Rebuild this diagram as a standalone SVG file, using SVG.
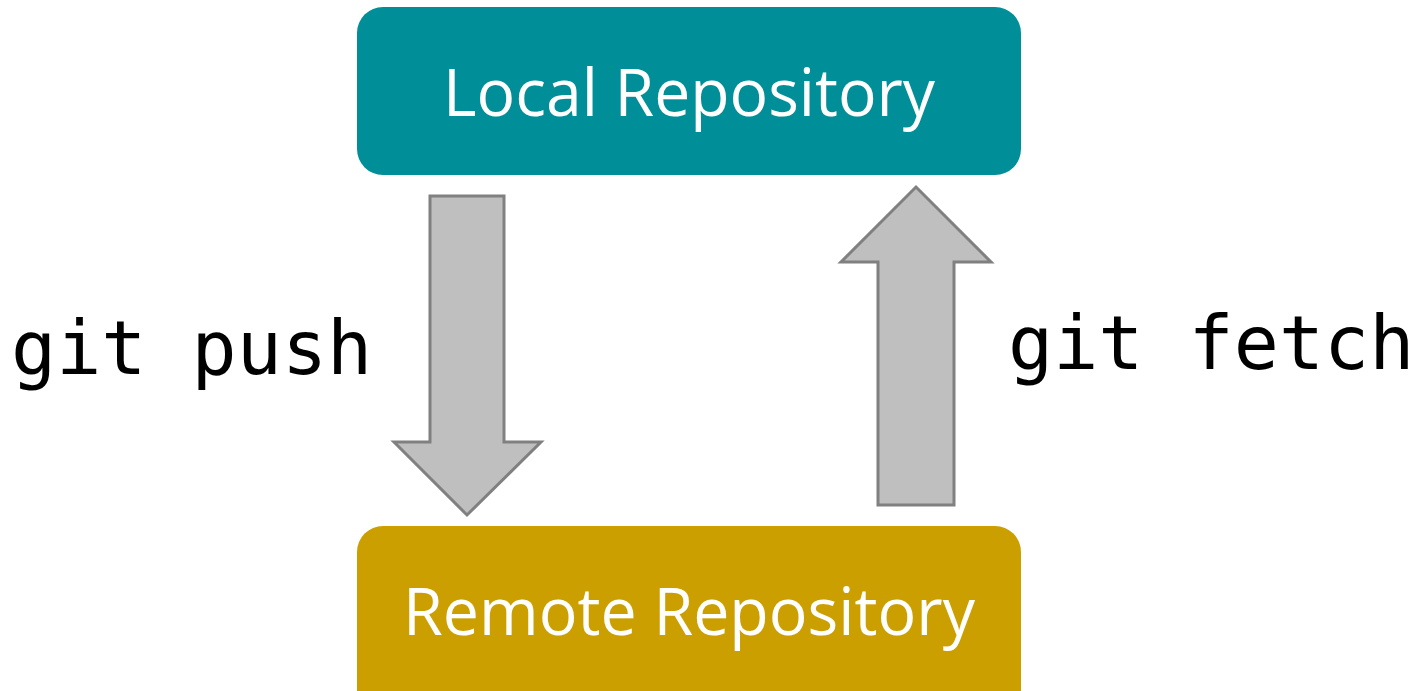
<svg xmlns="http://www.w3.org/2000/svg" width="1425" height="691" viewBox="0 0 1425 691">
<style>
.box text{font-family:"Open Sans","Noto Sans",sans-serif;font-size:66px;fill:#ffffff;}
.lbl{font-family:"DejaVu Sans Mono",monospace;font-size:75px;fill:#000000;}
.arrow{fill:#bfbfbf;stroke:#808080;stroke-width:3;stroke-linejoin:miter;}
</style>
<rect width="1425" height="691" fill="#ffffff"/>
<g id="local" class="box">
<rect x="357" y="7" width="664" height="168" rx="26" ry="26" fill="#008f98"/>
<text x="443" y="116" textLength="492" lengthAdjust="spacingAndGlyphs">Local Repository</text>
</g>
<g id="remote" class="box">
<rect x="357" y="526" width="664" height="190" rx="26" ry="26" fill="#cc9f00"/>
<text x="403" y="635" textLength="572" lengthAdjust="spacingAndGlyphs">Remote Repository</text>
</g>
<g id="connectors">
<g id="push">
<path class="arrow" d="M430,196 H504 V442 H541 L467,515 L394,442 H430 Z"/>
<text class="lbl" x="11" y="374">git push</text>
</g>
<g id="fetch">
<path class="arrow" d="M878,505 V262 H841 L916,187 L991,262 H954 V505 Z"/>
<text class="lbl" x="1008" y="369">git fetch</text>
</g>
</g>
</svg>
